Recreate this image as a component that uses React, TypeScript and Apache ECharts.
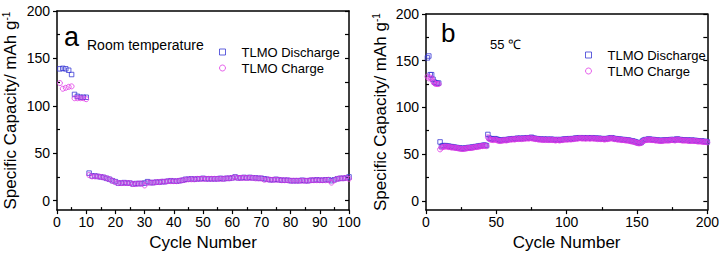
import React, { useEffect, useRef } from "react";
import * as echarts from "echarts";

const FONT = "'Liberation Sans', Arial, sans-serif";
const BLUE = "#3a3ad4";
const MAGENTA = "#e03ae6";

// Panel a (room temperature), cycles 1..100
const roomDischarge = [
  139, 139.5, 139, 137.5, 133, 112, 110, 109, 109, 109,
  29, 26, 26, 25.5, 25, 24.5, 23.5, 22.5, 21, 20,
  18.5, 18.5, 19, 18.5, 18.5, 17.5, 18, 18, 18, 18.5,
  20, 19, 19, 19.5, 19.5, 20, 20, 20.5, 21, 20.5,
  20.5, 21, 21.5, 22.5, 22.5, 23, 22.5, 23, 23, 23.5,
  23, 23, 23, 23, 23, 23.5, 23, 23.5, 23.5, 24,
  25, 24, 24, 24.5, 24, 24.5, 24, 24, 23.5, 23.5,
  23, 22.5, 22, 22, 22.5, 22, 21.5, 21.5, 21.5, 21,
  21, 21, 21, 21.5, 21, 21, 21.5, 21.5, 22, 21.5,
  21.5, 22, 22, 21, 22, 23, 23.5, 23.5, 24, 25,
];
const roomCharge = [
  124, 118, 119, 120, 120.5, 108, 108, 108, 108, 107,
  27, 25.5, 25.5, 25.5, 25, 24.5, 23.5, 22.5, 21, 19.5,
  18.5, 18.5, 18.5, 18.5, 18.5, 17.5, 17.5, 18, 18, 16,
  19, 19, 19, 19.5, 19.5, 20, 20, 20.5, 20.5, 20.5,
  20.5, 21, 21.5, 22, 22.5, 22.5, 22.5, 23, 23, 23,
  23, 23, 23, 23, 23, 23, 23, 23.5, 23.5, 24,
  24.5, 24, 24, 24, 24, 24, 24, 23.5, 23.5, 23.5,
  22, 22.5, 22, 22, 22, 22, 21.5, 21.5, 21.5, 21,
  21, 21, 21, 21, 21, 21, 21.5, 21.5, 21.5, 21.5,
  21.5, 21.5, 22, 19, 21.5, 23, 23.5, 23.5, 24, 23,
];

// Panel b (55 °C), cycles 1..200
const hotDischarge = [
  153, 155, 135, 135, 130, 127, 126, 126, 126, 63,
  58, 59, 59, 59, 58.5, 58.5, 58, 58, 57.5, 57.5,
  57, 57, 56.5, 56.5, 56, 56, 56, 56.5, 56.5, 57,
  57, 57, 57.5, 57.5, 58, 58, 58.5, 58.5, 59, 59,
  59.5, 59.5, 59, 71, 67, 66.5, 66, 66, 66.5, 66,
  65.5, 65, 64.5, 65, 65, 65.5, 65, 65.5, 66, 66,
  66, 66.5, 66, 66.5, 67, 66.5, 67, 66.5, 67, 67,
  67, 67.5, 67, 67.5, 68, 67, 67, 66.5, 66.5, 66,
  66, 66, 65.5, 66, 65.5, 66, 65.5, 65.5, 66, 65.5,
  65.5, 65, 65.5, 65.5, 65, 65.5, 65.5, 66, 66, 66,
  66, 66.5, 66, 66.5, 66.5, 67, 67, 67, 67.5, 67.5,
  67, 67.5, 67, 67, 67.5, 67, 67, 67.5, 67, 67,
  67, 66.5, 67, 66.5, 66.5, 66.5, 66, 66.5, 66.5, 67,
  67, 67.5, 67, 66.5, 66.5, 66, 66, 66, 65.5, 65.5,
  65.5, 65, 65, 65, 64.5, 64, 64, 63.5, 63, 62.5,
  62, 62, 62.5, 64, 65, 65.5, 65.5, 66, 66, 65.5,
  65.5, 65.5, 65, 65, 65, 64.5, 64.5, 64.5, 65, 65,
  65, 65, 65, 65.5, 65.5, 65.5, 65, 66, 66, 65.5,
  65.5, 65, 65, 65, 65, 65, 64.5, 64.5, 65, 64.5,
  64.5, 64.5, 64, 64, 64, 64, 63.5, 63.5, 63.5, 63,
];
const hotCharge = [
  133, 131, 132, 131, 128, 126, 125, 125, 125, 55,
  57, 57.5, 58, 58, 58, 57.5, 57.5, 57, 57, 57,
  56.5, 56.5, 56, 56, 55.5, 55.5, 55.5, 56, 56, 56.5,
  56.5, 56.5, 57, 57, 57.5, 57.5, 58, 58, 58.5, 58.5,
  59, 59, 58.5, 68, 66, 65.5, 65, 65, 65.5, 65,
  64.5, 64, 64, 64.5, 64.5, 65, 64.5, 65, 65.5, 65.5,
  65.5, 66, 65.5, 66, 66.5, 66, 66.5, 66, 66.5, 66.5,
  66.5, 67, 66.5, 67, 67, 66.5, 66.5, 66, 66, 65.5,
  65.5, 65.5, 65, 65.5, 65, 65.5, 65, 65, 65.5, 65,
  65, 64.5, 65, 65, 64.5, 65, 65, 65.5, 65.5, 65.5,
  65.5, 66, 65.5, 66, 66, 66.5, 66.5, 66.5, 67, 67,
  66.5, 67, 66.5, 66.5, 67, 66.5, 66.5, 67, 66.5, 66.5,
  66.5, 66, 66.5, 66, 66, 66, 65.5, 66, 66, 66.5,
  66.5, 67, 66.5, 66, 66, 65.5, 65.5, 65.5, 65, 65,
  65, 64.5, 64.5, 64.5, 64, 63.5, 63.5, 63, 62.5, 62,
  61.5, 61.5, 62, 63.5, 64.5, 65, 65, 65.5, 65.5, 65,
  65, 65, 64.5, 64.5, 64.5, 64, 64, 64, 64.5, 64.5,
  64.5, 64.5, 64.5, 65, 65, 65, 64.5, 65.5, 65.5, 65,
  65, 64.5, 64.5, 64.5, 64.5, 64.5, 64, 64, 64.5, 64,
  64, 64, 63.5, 63.5, 63.5, 63.5, 63, 63, 63, 62.5,
];

const yMajor = [0, 50, 100, 150, 200];
const yMinor = [25, 75, 125, 175];
const yAll = [0, 25, 50, 75, 100, 125, 150, 175, 200];
const xMinorA = [5, 15, 25, 35, 45, 55, 65, 75, 85, 95];
const xMinorB = [25, 75, 125, 175];

const SERIES_D = "TLMO Discharge";
const SERIES_C = "TLMO Charge";

const toPts = (arr: number[]) => arr.map((v, i) => [i + 1, v]);

const lineStyle = { color: "#000", width: 1.5 };

function xAxes(grid: number, max: number, interval: number, minors: number[]) {
  return [
    {
      gridIndex: grid, type: "value", min: 0, max, interval, position: "bottom",
      axisLine: { onZero: false, lineStyle },
      axisTick: { inside: false, length: 4, lineStyle: { color: "#000", width: 1.2 } },
      axisLabel: { fontSize: 14, color: "#000", margin: 5, fontFamily: FONT },
      splitLine: { show: false },
      name: "Cycle Number", nameLocation: "middle", nameGap: 23,
      nameTextStyle: { fontSize: 17, color: "#000", fontFamily: FONT },
    },
    {
      gridIndex: grid, type: "value", min: 0, max, position: "bottom",
      axisLine: { show: false, onZero: false },
      axisTick: { inside: true, length: 3, customValues: minors, lineStyle: { color: "#000", width: 1.2 } },
      axisLabel: { show: false },
      splitLine: { show: false },
    },
    {
      gridIndex: grid, type: "value", min: 0, max, position: "top",
      axisLine: { onZero: false, lineStyle },
      axisTick: { show: false },
      axisLabel: { show: false },
      splitLine: { show: false },
    },
  ];
}

function yAxes(grid: number, nameGap: number) {
  return [
    {
      gridIndex: grid, type: "value", min: -10, max: 200, position: "left",
      axisLine: { onZero: false, lineStyle },
      axisTick: { inside: false, length: 4, customValues: yMajor, lineStyle: { color: "#000", width: 1.2 } },
      axisLabel: { fontSize: 14, color: "#000", margin: 7, fontFamily: FONT, customValues: yMajor },
      splitLine: { show: false },
      name: "{t|Specific Capacity/ mAh g}{s|-1}", nameLocation: "middle", nameGap,
      nameTextStyle: {
        color: "#000", fontFamily: FONT, fontSize: 17,
        rich: {
          t: { fontSize: 17, color: "#000", fontFamily: FONT },
          s: { fontSize: 10, color: "#000", fontFamily: FONT, padding: [0, 0, 9, 0] },
        },
      },
    },
    {
      gridIndex: grid, type: "value", min: -10, max: 200, position: "left",
      axisLine: { show: false, onZero: false },
      axisTick: { inside: true, length: 3, customValues: yMinor, lineStyle: { color: "#000", width: 1.2 } },
      axisLabel: { show: false },
      splitLine: { show: false },
    },
    {
      gridIndex: grid, type: "value", min: -10, max: 200, position: "right",
      axisLine: { onZero: false, lineStyle },
      axisTick: { inside: true, length: 4, customValues: yAll, lineStyle: { color: "#000", width: 1.2 } },
      axisLabel: { show: false },
      splitLine: { show: false },
    },
  ];
}

function legend(left: number, top: number) {
  return {
    orient: "vertical", left, top, itemWidth: 6, itemHeight: 6, itemGap: 0,
    textStyle: { fontSize: 13, color: "#000", fontFamily: FONT, lineHeight: 16, padding: [0, 0, 0, 11] },
    data: [
      { name: SERIES_D, icon: "rect", itemStyle: { color: "rgba(0,0,0,0)", borderColor: BLUE, borderWidth: 1 } },
      { name: SERIES_C, icon: "circle", itemStyle: { color: "rgba(0,0,0,0)", borderColor: MAGENTA, borderWidth: 1 } },
    ],
  };
}

function scatter(name: string, data: number[], axis: number, symbol: string, color: string, size: number) {
  return {
    name, type: "scatter", xAxisIndex: axis, yAxisIndex: axis,
    data: toPts(data), symbol, symbolSize: size,
    itemStyle: { color: "rgba(0,0,0,0)", borderColor: color, borderWidth: 1 },
  };
}

const txt = (text: string, x: number, y: number, fontSize: number) => ({
  type: "text", x, y,
  style: { text, fontSize, fill: "#000", fontFamily: FONT, verticalAlign: "middle", align: "left" },
});

const option = {
  animation: false,
  backgroundColor: "#fff",
  grid: [
    { left: 56, top: 11, width: 293, height: 203 },
    { left: 426, top: 14, width: 285, height: 198 },
  ],
  xAxis: [...xAxes(0, 100, 10, xMinorA), ...xAxes(1, 200, 50, xMinorB)],
  yAxis: [...yAxes(0, 37), ...yAxes(1, 36)],
  legend: [legend(214, 39), legend(580, 42)],
  series: [
    scatter(SERIES_D, roomDischarge, 0, "rect", BLUE, 4.5),
    scatter(SERIES_C, roomCharge, 0, "circle", MAGENTA, 5),
    scatter(SERIES_D, hotDischarge, 3, "rect", BLUE, 4.5),
    scatter(SERIES_C, hotCharge, 3, "circle", MAGENTA, 5),
  ],
  graphic: [
    txt("a", 64, 37, 27),
    txt("Room temperature", 87, 45, 14),
    txt("b", 441, 33, 26),
    txt("55 ℃", 490, 44, 13),
  ],
};

export default function App() {
  const ref = useRef<HTMLDivElement>(null);
  useEffect(() => {
    document.body.style.margin = "0";
    const chart = echarts.init(ref.current!, null, { renderer: "svg" });
    chart.setOption(option as any);
    return () => chart.dispose();
  }, []);
  return <div ref={ref} style={{ width: 722, height: 256 }} />;
}
